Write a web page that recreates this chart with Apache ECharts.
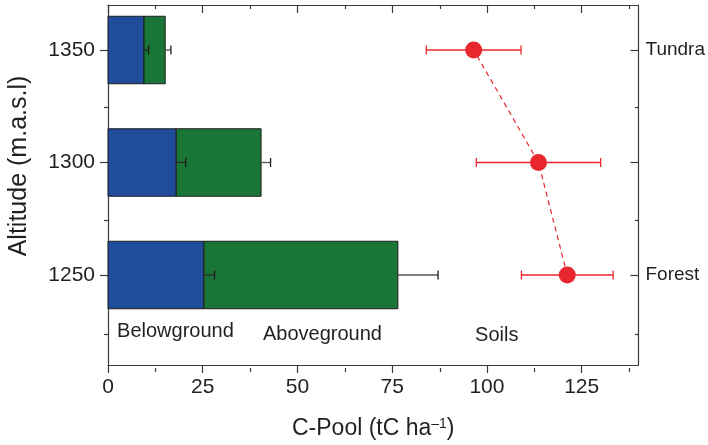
<!DOCTYPE html>
<html>
<head>
<meta charset="utf-8">
<script src="https://cdn.jsdelivr.net/npm/echarts@6/dist/echarts.min.js"></script>
<style>
  html, body { margin: 0; padding: 0; background: #ffffff; }
  #chart { width: 708px; height: 445px; }
</style>
</head>
<body>
<div id="chart"></div>
<script>
// Sampling altitudes (m a.s.l.)
const altitudes = [1250, 1300, 1350];
// Carbon pools per altitude (tC ha-1), with one standard error
const belowground = [25.3, 18.0, 9.5];
const belowgroundErr = [2.8, 2.5, 1.2];
const aboveground = [51.2, 22.4, 5.6];
const abovegroundErr = [10.6, 2.5, 1.5];
const soils = [121.2, 113.6, 96.5];
const soilsErr = [12.1, 16.4, 12.5];
// Axis ticks
const xTicks = [0, 25, 50, 75, 100, 125];
const xMinorTicks = [12.5, 37.5, 62.5, 87.5, 112.5, 137.5];
const yTicks = [1250, 1300, 1350];
const yMinorTicks = [1225, 1275, 1325];
const siteLabels = { 1250: 'Forest', 1350: 'Tundra' };

const BAR_HALF = 15;          // half bar thickness, in altitude units
const FONT = 'Liberation Sans, Arial, Helvetica, sans-serif';
const TEXT = '#231f20';
const AXIS = '#3a3a3a';
const BLUE = '#204c9c';
const GREEN = '#1a7636';
const RED = '#e8262e';

const X_RANGE = { min: 0, max: 140 };
const Y_RANGE = { min: 1210, max: 1370 };

const chart = echarts.init(document.getElementById('chart'), null, { renderer: 'canvas' });

// Rectangle spanning [x0, x1] around an altitude
function barRender(color) {
  return function (params, api) {
    const alt = api.value(0);
    const p0 = api.coord([api.value(1), alt + BAR_HALF]);
    const p1 = api.coord([api.value(2), alt - BAR_HALF]);
    return {
      type: 'rect',
      shape: { x: p0[0], y: p0[1], width: p1[0] - p0[0], height: p1[1] - p0[1] },
      style: { fill: color, stroke: '#1c1c1c', lineWidth: 1 }
    };
  };
}

// Horizontal error bar from x0 to x1; caps drawn at the requested ends
function errRender(lineColor, capColor, capStart) {
  return function (params, api) {
    const alt = api.value(0);
    const a = api.coord([api.value(1), alt]);
    const b = api.coord([api.value(2), alt]);
    const h = 4.5;
    const children = [{
      type: 'line',
      shape: { x1: a[0], y1: a[1], x2: b[0], y2: b[1] },
      style: { stroke: lineColor, lineWidth: 1.3 }
    }, {
      type: 'line',
      shape: { x1: b[0], y1: b[1] - h, x2: b[0], y2: b[1] + h },
      style: { stroke: capColor, lineWidth: 1.3 }
    }];
    if (capStart) {
      children.push({
        type: 'line',
        shape: { x1: a[0], y1: a[1] - h, x2: a[0], y2: a[1] + h },
        style: { stroke: capColor, lineWidth: 1.3 }
      });
    }
    return { type: 'group', children: children };
  };
}

// Plain text placed at a data coordinate
function textRender(params, api) {
  const p = api.coord([api.value(0), api.value(1)]);
  return {
    type: 'text',
    x: p[0], y: p[1],
    style: {
      text: poolLabels[params.dataIndex],
      fill: TEXT, font: '20px ' + FONT,
      align: 'center', verticalAlign: 'middle'
    }
  };
}

const poolLabels = ['Belowground', 'Aboveground', 'Soils'];

const gridBox = { left: 108, right: 69, top: 5, bottom: 77 };

function tickAxis(extra) {
  return Object.assign({
    type: 'value',
    splitLine: { show: false },
    axisLine: { show: false, onZero: false },
    axisLabel: { show: false },
    axisTick: { show: true, lineStyle: { color: AXIS, width: 1.2 } }
  }, extra);
}

const option = {
  animation: false,
  backgroundColor: '#ffffff',
  textStyle: { fontFamily: FONT, color: TEXT },
  grid: [Object.assign({}, gridBox), Object.assign({}, gridBox)],
  graphic: [{
    type: 'text',
    x: 19, y: 166,
    rotation: Math.PI / 2,
    style: {
      text: 'Altitude (m.a.s.l)',
      fill: TEXT, font: '25px ' + FONT,
      align: 'center', verticalAlign: 'middle'
    }
  }],
  xAxis: [
    tickAxis(Object.assign({
      gridIndex: 0, position: 'bottom',
      axisLine: { show: true, onZero: false, lineStyle: { color: AXIS, width: 1.2 } },
      axisTick: { show: true, inside: false, length: 8, customValues: xTicks, lineStyle: { color: AXIS, width: 1.2 } },
      axisLabel: { show: true, customValues: xTicks, margin: 12, fontSize: 21, color: TEXT, fontFamily: FONT },
      name: 'C-Pool (tC ha{sup|\u20131})',
      nameLocation: 'middle',
      nameGap: 52,
      nameTextStyle: {
        fontSize: 23, color: TEXT, fontFamily: FONT,
        rich: { sup: { fontSize: 14, color: TEXT, fontFamily: FONT, verticalAlign: 'top', lineHeight: 14 } }
      }
    }, X_RANGE)),
    tickAxis(Object.assign({
      gridIndex: 0, position: 'top',
      axisLine: { show: true, onZero: false, lineStyle: { color: AXIS, width: 1.2 } },
      axisTick: { show: true, inside: true, length: 8, customValues: xTicks, lineStyle: { color: AXIS, width: 1.2 } }
    }, X_RANGE)),
    tickAxis(Object.assign({
      gridIndex: 1, position: 'bottom',
      axisTick: { show: true, inside: false, length: 4, customValues: xMinorTicks, lineStyle: { color: AXIS, width: 1.2 } }
    }, X_RANGE)),
    tickAxis(Object.assign({
      gridIndex: 1, position: 'top',
      axisTick: { show: true, inside: true, length: 4, customValues: xMinorTicks, lineStyle: { color: AXIS, width: 1.2 } }
    }, X_RANGE))
  ],
  yAxis: [
    tickAxis(Object.assign({
      gridIndex: 0, position: 'left',
      axisLine: { show: true, onZero: false, lineStyle: { color: AXIS, width: 1.2 } },
      axisTick: { show: true, inside: false, length: 8, customValues: yTicks, lineStyle: { color: AXIS, width: 1.2 } },
      axisLabel: {
        show: true, customValues: yTicks, margin: 13, fontSize: 21, color: TEXT, fontFamily: FONT,
        formatter: function (v) { return String(v); }
      }
    }, Y_RANGE)),
    tickAxis(Object.assign({
      gridIndex: 0, position: 'right',
      axisLine: { show: true, onZero: false, lineStyle: { color: AXIS, width: 1.2 } },
      axisTick: { show: true, inside: true, length: 8, customValues: yTicks, lineStyle: { color: AXIS, width: 1.2 } },
      axisLabel: {
        show: true, customValues: [1250, 1350], margin: 7, fontSize: 19, color: TEXT, fontFamily: FONT,
        formatter: function (v) { return siteLabels[v] || ''; }
      }
    }, Y_RANGE)),
    tickAxis(Object.assign({
      gridIndex: 1, position: 'left',
      axisTick: { show: true, inside: false, length: 4, customValues: yMinorTicks, lineStyle: { color: AXIS, width: 1.2 } }
    }, Y_RANGE)),
    tickAxis(Object.assign({
      gridIndex: 1, position: 'right',
      axisTick: { show: true, inside: true, length: 4, customValues: yMinorTicks, lineStyle: { color: AXIS, width: 1.2 } }
    }, Y_RANGE))
  ],
  series: [
    {
      name: 'Belowground',
      type: 'custom',
      xAxisIndex: 0, yAxisIndex: 0,
      renderItem: barRender(BLUE),
      encode: { x: [1, 2], y: 0 },
      data: altitudes.map(function (a, i) { return [a, 0, belowground[i]]; }),
      z: 2
    },
    {
      name: 'Aboveground',
      type: 'custom',
      xAxisIndex: 0, yAxisIndex: 0,
      renderItem: barRender(GREEN),
      encode: { x: [1, 2], y: 0 },
      data: altitudes.map(function (a, i) {
        return [a, belowground[i], belowground[i] + aboveground[i]];
      }),
      z: 2
    },
    {
      name: 'Belowground error',
      type: 'custom',
      xAxisIndex: 0, yAxisIndex: 0,
      renderItem: errRender('#2a2a2a', '#1a1a1a', false),
      encode: { x: [1, 2], y: 0 },
      data: altitudes.map(function (a, i) {
        return [a, belowground[i], belowground[i] + belowgroundErr[i]];
      }),
      z: 3
    },
    {
      name: 'Aboveground error',
      type: 'custom',
      xAxisIndex: 0, yAxisIndex: 0,
      renderItem: errRender('#555555', '#1a1a1a', false),
      encode: { x: [1, 2], y: 0 },
      data: altitudes.map(function (a, i) {
        const total = belowground[i] + aboveground[i];
        return [a, total, total + abovegroundErr[i]];
      }),
      z: 3
    },
    {
      name: 'Soils error',
      type: 'custom',
      xAxisIndex: 0, yAxisIndex: 0,
      renderItem: errRender(RED, RED, true),
      encode: { x: [1, 2], y: 0 },
      data: altitudes.map(function (a, i) {
        return [a, soils[i] - soilsErr[i], soils[i] + soilsErr[i]];
      }),
      z: 3
    },
    {
      name: 'Soils',
      type: 'line',
      xAxisIndex: 0, yAxisIndex: 0,
      data: altitudes.map(function (a, i) { return [soils[i], a]; }),
      symbol: 'circle',
      symbolSize: 17,
      itemStyle: { color: RED, borderWidth: 0 },
      lineStyle: { color: RED, width: 1.2, type: [5, 4] },
      z: 4
    },
    {
      name: 'Pool labels',
      type: 'custom',
      xAxisIndex: 0, yAxisIndex: 0,
      silent: true,
      renderItem: textRender,
      encode: { x: 0, y: 1 },
      data: [[17.8, 1224.8], [56.6, 1223.7], [102.6, 1223.2]],
      z: 5
    }
  ]
};

chart.setOption(option);
</script>
</body>
</html>
